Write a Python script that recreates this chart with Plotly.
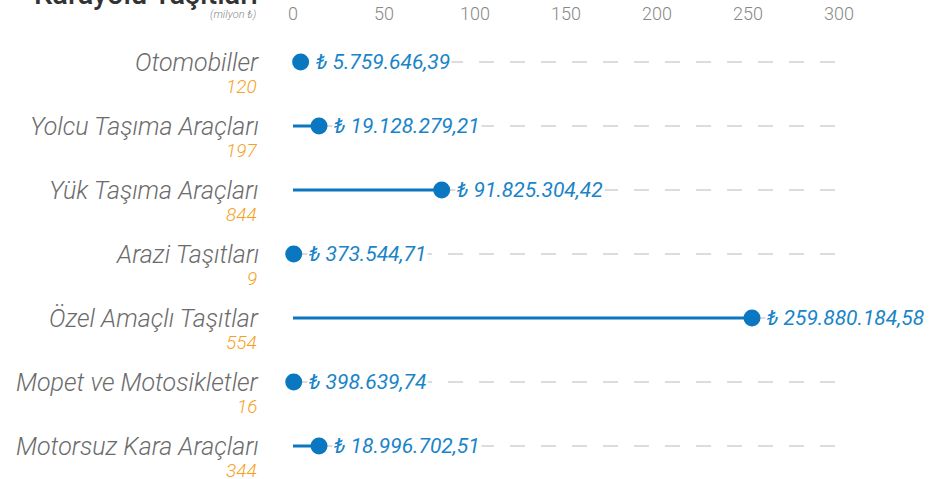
import plotly.graph_objects as go

categories = ["Otomobiller", "Yolcu Taşıma Araçları", "Yük Taşıma Araçları", "Arazi Taşıtları",
              "Özel Amaçlı Taşıtlar", "Mopet ve Motosikletler", "Motorsuz Kara Araçları"]
counts = [120, 197, 844, 9, 554, 16, 344]
amount_labels = ["5.759.646,39", "19.128.279,21", "91.825.304,42", "373.544,71",
                 "259.880.184,58", "398.639,74", "18.996.702,51"]
# dot positions (milyon ₺) as drawn in the reference
dot_values = [4.2, 14.3, 81.7, 0.4, 252.2, 0.4, 14.3]
tick_vals = [0, 50, 100, 150, 200, 250, 300]

BLUE = "#0a77c0"
LBLUE = "#1a84c8"
ORANGE = "#f7a11e"
GREY = "#6b6b6b"

fig = go.Figure()
ys = list(range(len(categories)))

for i, v in enumerate(dot_values):
    fig.add_trace(go.Scatter(x=[0, 300], y=[i, i], mode="lines",
                             line=dict(color="#dcdcdc", width=2, dash="15px,16px"),
                             hoverinfo="skip", showlegend=False, cliponaxis=False))
for i, v in enumerate(dot_values):
    fig.add_trace(go.Scatter(x=[0, v], y=[i, i], mode="lines",
                             line=dict(color=BLUE, width=3),
                             hoverinfo="skip", showlegend=False, cliponaxis=False))
fig.add_trace(go.Scatter(x=dot_values, y=ys, mode="markers",
                         marker=dict(color=BLUE, size=17),
                         showlegend=False, cliponaxis=False))

ann = []
for i, (c, n, lab, v) in enumerate(zip(categories, counts, amount_labels, dot_values)):
    ann.append(dict(x=0, y=i, xref="x", yref="y", text=c, showarrow=False,
                    xanchor="right", yanchor="middle", xshift=-32,
                    font=dict(family="Roboto", size=25, color=GREY, style="italic", weight=300)))
    ann.append(dict(x=0, y=i, xref="x", yref="y", text=str(n), showarrow=False,
                    xanchor="right", yanchor="middle", xshift=-34, yshift=-24,
                    font=dict(family="Roboto", size=19, color=ORANGE, style="italic", weight=300)))
    ann.append(dict(x=v, y=i, xref="x", yref="y", text="₺ " + lab, showarrow=False,
                    xanchor="left", yanchor="middle", xshift=13, bgcolor="white", borderpad=1,
                    font=dict(family="Roboto", size=21, color=LBLUE, style="italic", weight=400)))

ann.append(dict(x=0, y=1, xref="x", yref="paper", text="Karayolu Taşıtları", showarrow=False,
                xanchor="right", yanchor="bottom", xshift=-33, yshift=17,
                font=dict(family="Roboto", size=29, color="#333333", weight=500)))
ann.append(dict(x=0, y=1, xref="x", yref="paper", text="(milyon ₺)", showarrow=False,
                xanchor="right", yanchor="middle", xshift=-35, yshift=16,
                font=dict(family="Roboto", size=11, color="#888888", style="italic", weight=300)))

fig.update_layout(
    width=930, height=479,
    margin=dict(l=293, r=91, t=30, b=0),
    paper_bgcolor="white", plot_bgcolor="white",
    annotations=ann,
    xaxis=dict(range=[0, 300], side="top", tickvals=tick_vals, showgrid=False, zeroline=False,
               showline=False, ticks="", ticklabelstandoff=5, automargin=False,
               tickfont=dict(family="Roboto", size=18, color="#888888", weight=300)),
    yaxis=dict(range=[6.5156, -0.5], showticklabels=False, showgrid=False, zeroline=False,
               showline=False, automargin=False),
)

fig.write_html("out.html", config={"displayModeBar": False},
               post_script="document.body.style.margin='0';")
